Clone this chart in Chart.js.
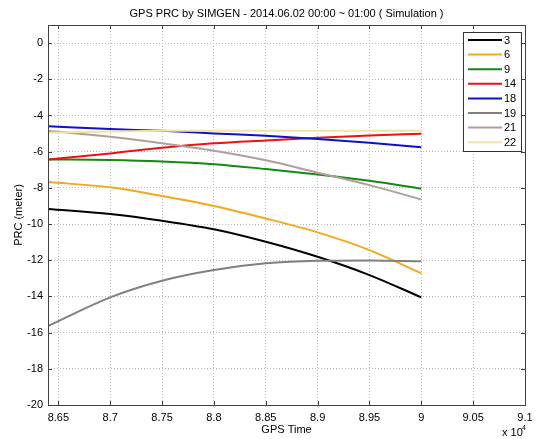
<!DOCTYPE html>
<html>
<head>
<meta charset="utf-8">
<script src="https://cdn.jsdelivr.net/npm/chart.js@4/dist/chart.umd.min.js"></script>
<style>
html,body{margin:0;padding:0;background:#fff;}
#wrap{width:542px;height:439px;position:relative;}
</style>
</head>
<body>
<div id="wrap"><canvas id="c" width="542" height="439"></canvas></div>
<script>
// ---- data ----
const gpsTime = [86400, 87000, 87500, 88000, 88500, 89000, 89500, 90000];
const prn3  = [-9.17, -9.45, -9.82, -10.29, -10.98, -11.81, -12.82, -14.05];
const prn6  = [-7.68, -7.97, -8.45, -9.00, -9.69, -10.46, -11.44, -12.73];
const prn9  = [-6.43, -6.46, -6.54, -6.69, -6.96, -7.26, -7.61, -8.05];
const prn14 = [-6.43, -6.10, -5.78, -5.54, -5.38, -5.23, -5.10, -5.01];
const prn18 = [-4.59, -4.75, -4.85, -4.99, -5.12, -5.30, -5.51, -5.76];
const prn19 = [-15.64, -14.05, -13.13, -12.54, -12.17, -12.03, -12.01, -12.06];
const prn21 = [-4.84, -5.18, -5.54, -5.95, -6.48, -7.16, -7.85, -8.64];
const prn22 = [-4.95, -4.88, -4.85, -4.84, -4.84, -4.84, -4.84, -4.84];
const seriesNames = ['3', '6', '9', '14', '18', '19', '21', '22'];
const xTicks = [86500, 87000, 87500, 88000, 88500, 89000, 89500, 90000, 90500, 91000];
const yTicks = [-20, -18, -16, -14, -12, -10, -8, -6, -4, -2, 0];
const titleText = 'GPS PRC by SIMGEN - 2014.06.02 00:00 ~ 01:00 ( Simulation )';

const colors = ['#000000', '#f2a91e', '#138a13', '#ee1111', '#1010c8', '#808080', '#b39c9c', '#efe4a4'];
const seriesValues = [prn3, prn6, prn9, prn14, prn18, prn19, prn21, prn22];
const FONT = '"Liberation Sans", Arial, sans-serif';

const datasets = seriesValues.map((vals, i) => ({
  label: seriesNames[i],
  data: vals.map((v, k) => ({x: gpsTime[k], y: v})),
  borderColor: colors[i],
  backgroundColor: colors[i],
  borderWidth: 2,
  pointRadius: 0,
  cubicInterpolationMode: 'monotone',
  fill: false,
  order: -i
}));

const framePlugin = {
  id: 'frame',
  afterDraw(chart) {
    const ctx = chart.ctx;
    const a = chart.chartArea;
    const xs = chart.scales.x, ys = chart.scales.y;
    ctx.save();
    // frame
    ctx.strokeStyle = '#404040';
    ctx.lineWidth = 1;
    ctx.strokeRect(Math.round(a.left) + 0.5, Math.round(a.top) + 0.5, Math.round(a.right - a.left), Math.round(a.bottom - a.top));
    // inward ticks
    ctx.beginPath();
    xTicks.forEach(v => {
      const px = Math.round(xs.getPixelForValue(v)) + 0.5;
      ctx.moveTo(px, a.bottom); ctx.lineTo(px, a.bottom - 4);
      ctx.moveTo(px, a.top); ctx.lineTo(px, a.top + 4);
    });
    yTicks.forEach(v => {
      const py = Math.round(ys.getPixelForValue(v)) + 0.5;
      ctx.moveTo(a.left, py); ctx.lineTo(a.left + 4, py);
      ctx.moveTo(a.right, py); ctx.lineTo(a.right - 4, py);
    });
    ctx.stroke();
    // title
    ctx.fillStyle = '#000';
    ctx.font = '11px ' + FONT;
    ctx.textAlign = 'center';
    ctx.textBaseline = 'middle';
    ctx.fillText(titleText, (a.left + a.right) / 2, 14);
    // x 10^4
    ctx.textAlign = 'left';
    ctx.fillText('x 10', 502, 433);
    ctx.font = '7px ' + FONT;
    ctx.fillText('4', 522, 428);
    // legend
    const lx = 463, ly = 32, lw = 58, lh = 119;
    ctx.fillStyle = '#fff';
    ctx.fillRect(lx, ly, lw, lh);
    ctx.strokeStyle = '#333';
    ctx.strokeRect(lx + 0.5, ly + 0.5, lw, lh);
    ctx.font = '11px ' + FONT;
    ctx.textBaseline = 'middle';
    chart.data.datasets.forEach((ds, i) => {
      const yy = 40 + i * 14.6;
      ctx.strokeStyle = ds.borderColor;
      ctx.lineWidth = 2;
      ctx.beginPath();
      ctx.moveTo(468, yy); ctx.lineTo(502, yy);
      ctx.stroke();
      ctx.fillStyle = '#000';
      ctx.fillText(ds.label, 504, yy + 0.5);
    });
    ctx.restore();
  }
};

new Chart(document.getElementById('c'), {
  type: 'line',
  data: {datasets},
  options: {
    responsive: false,
    animation: false,
    devicePixelRatio: 1,
    layout: {padding: {top: 25, right: 17, left: 0, bottom: 0}},
    plugins: {legend: {display: false}, title: {display: false}, tooltip: {enabled: false}},
    scales: {
      x: {
        type: 'linear',
        min: 86400, max: 91000,
        afterBuildTicks: s => { s.ticks = xTicks.map(v => ({value: v})); },
        afterFit: s => { s.height = 34; },
        grid: {color: '#b8b8b8', lineWidth: 1, drawTicks: false},
        border: {display: false, dash: [1, 2]},
        ticks: {
          color: '#000', font: {family: FONT, size: 11}, padding: 6, maxRotation: 0, autoSkip: false,
          callback: v => String(+(v / 10000).toFixed(2))
        },
        title: {display: true, text: 'GPS Time', color: '#000', font: {family: FONT, size: 11}, padding: {top: 0, bottom: 2}}
      },
      y: {
        type: 'linear',
        min: -20, max: 1,
        afterBuildTicks: s => { s.ticks = yTicks.map(v => ({value: v})); },
        afterFit: s => { s.width = 48; },
        grid: {color: '#b8b8b8', lineWidth: 1, drawTicks: false},
        border: {display: false, dash: [1, 2]},
        ticks: {color: '#000', font: {family: FONT, size: 11}, padding: 5, autoSkip: false},
        title: {display: true, text: 'PRC (meter)', color: '#000', font: {family: FONT, size: 11}, padding: {top: 12, bottom: 0}}
      }
    }
  },
  plugins: [framePlugin]
});
</script>
</body>
</html>
